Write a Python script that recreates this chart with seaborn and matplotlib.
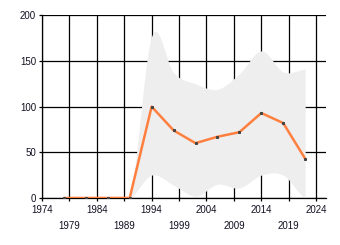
import numpy as np
import pandas as pd
import matplotlib
matplotlib.use("Agg")
import matplotlib.pyplot as plt
import seaborn as sns

years = [1978, 1982, 1986, 1990, 1994, 1998, 2002, 2006, 2010, 2014, 2018, 2022]
values = [0, 0, 0, 0, 100, 74, 60, 67, 72, 93, 82, 43]
upper = [0, 0, 0, 0, 177, 137, 125, 119, 136, 161, 138, 141]
lower = [0, 0, 0, 0, 25, 14, 2, 15, 11, 25, 25, 0]
xticks = [1974, 1979, 1984, 1989, 1994, 1999, 2004, 2009, 2014, 2019, 2024]
yticks = [0, 50, 100, 150, 200]

df = pd.DataFrame({"year": years, "value": values})

sns.set_theme(style="white")
plt.rcParams["font.family"] = ["Liberation Sans", "DejaVu Sans"]


def smooth(xs, ys, n=30):
    # Catmull-Rom rendering of the band edge (curve style only)
    xs = np.asarray(xs, float)
    ys = np.asarray(ys, float)
    px = np.concatenate([[2 * xs[0] - xs[1]], xs, [2 * xs[-1] - xs[-2]]])
    py = np.concatenate([[ys[0]], ys, [ys[-1]]])
    ox, oy = [], []
    for i in range(1, len(px) - 2):
        t = np.linspace(0, 1, n, endpoint=False)
        m1 = (py[i + 1] - py[i - 1]) / 2
        m2 = (py[i + 2] - py[i]) / 2
        h00 = 2 * t**3 - 3 * t**2 + 1
        h10 = t**3 - 2 * t**2 + t
        h01 = -2 * t**3 + 3 * t**2
        h11 = t**3 - t**2
        oy.extend(h00 * py[i] + h10 * m1 + h01 * py[i + 1] + h11 * m2)
        ox.extend(px[i] + t * (px[i + 1] - px[i]))
    ox.append(xs[-1])
    oy.append(ys[-1])
    return np.array(ox), np.clip(np.array(oy), 0, None)


fig = plt.figure(figsize=(3.4, 2.45), dpi=100)
ax = fig.add_axes([0.1235, 0.192, 0.8353, 0.7456])

bx, bu = smooth(years[3:], upper[3:])
_, bl = smooth(years[3:], lower[3:])
ax.fill_between(bx, bl, bu, color="#eeeeee", lw=0, zorder=1)

for yv in yticks:
    ax.axhline(yv, color="black", lw=0.9, zorder=0.5)
for xv in xticks:
    ax.axvline(xv, color="black", lw=0.9, zorder=0.5)

sns.lineplot(data=df, x="year", y="value", ax=ax, color="#ff7f3f", lw=1.8,
             marker="s", markersize=1.4, markerfacecolor="#444444",
             markeredgecolor="#444444", zorder=3)

ax.set_xlim(1974, 2025.8)
ax.set_ylim(0, 200)
ax.set_xticks(xticks)
ax.set_xticklabels([str(x) for x in xticks])
ax.set_yticks(yticks)
ax.set_yticklabels([str(y) for y in yticks])
ax.set_xlabel("")
ax.set_ylabel("")
for s in ["top", "right"]:
    ax.spines[s].set_visible(False)
for s in ["left", "bottom"]:
    ax.spines[s].set_color("black")
    ax.spines[s].set_linewidth(0.9)
ax.tick_params(axis="both", which="major", length=2.3, width=0.9,
               color="black", labelsize=7, labelcolor="#111122",
               bottom=True, left=True)
ax.tick_params(axis="y", pad=2)
for i, tk in enumerate(ax.xaxis.get_major_ticks()):
    tk.set_pad(2.5 if i % 2 == 0 else 14)

fig.savefig("out.png", dpi=100)
